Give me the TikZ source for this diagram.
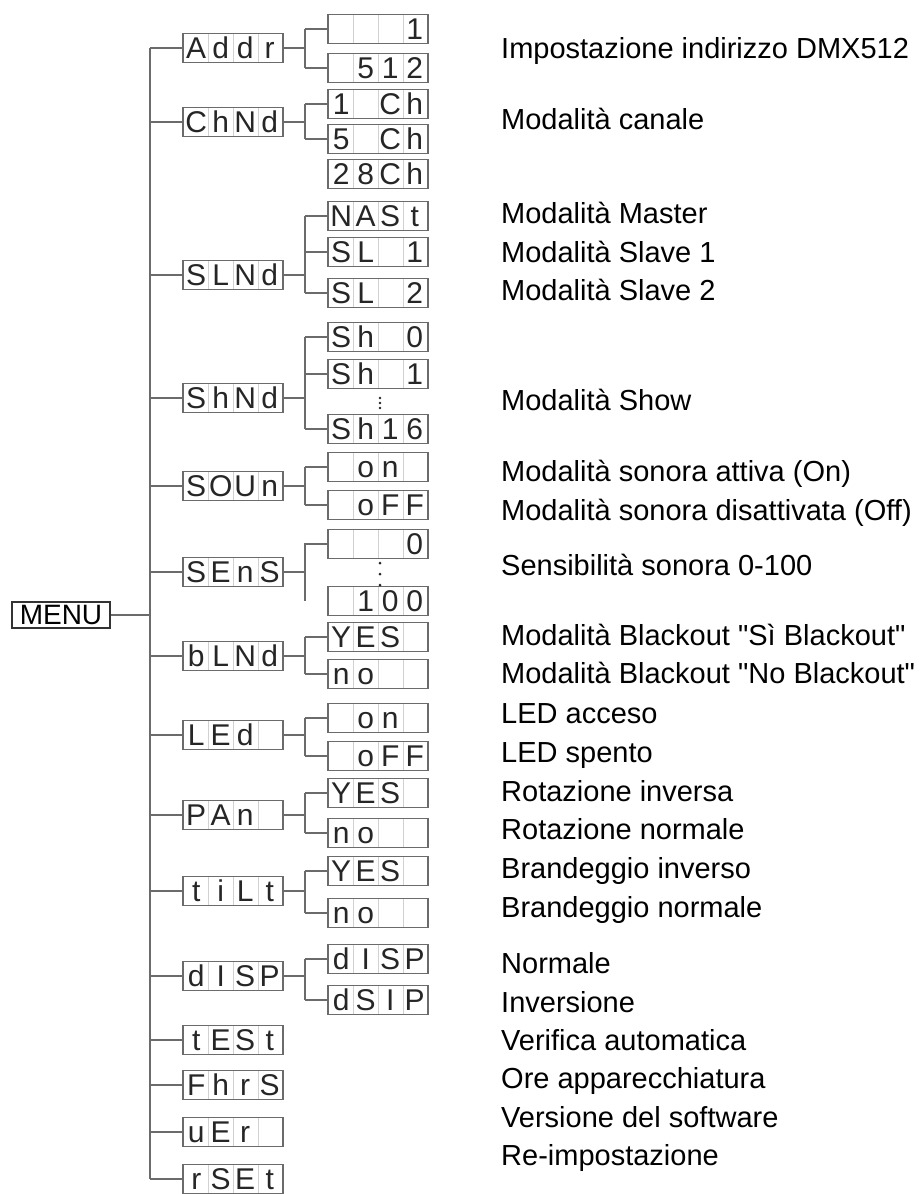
\documentclass[tikz,border=0pt]{standalone}
\usepackage{fontspec}
\setmainfont{Liberation Sans}
\usetikzlibrary{positioning,calc}

\definecolor{linea}{gray}{0.42}
\definecolor{griglia}{gray}{0.82}
\definecolor{cifra}{gray}{0.15}

% quattro celle del display
\newcommand{\lcd}[4]{\rule[-1.5pt]{0pt}{24.5pt}\makebox[24.5pt]{#1}\makebox[24.5pt]{#2}\makebox[24.5pt]{#3}\makebox[24.5pt]{#4}}

\tikzset{
  display/.style={draw=linea, line width=1.4pt, inner sep=1pt, minimum height=29pt,
    text=cifra, font=\fontsize{30}{30}\selectfont,
    path picture={\foreach \k in {1,2,3}
      \draw[griglia, line width=0.8pt]
        ($(path picture bounding box.south west)!\k/4!(path picture bounding box.south east)$) --
        ($(path picture bounding box.north west)!\k/4!(path picture bounding box.north east)$);}},
  ramo/.style={draw=linea, line width=1.4pt},
  voce/.style={anchor=base west, inner sep=0pt, font=\fontsize{29}{31}\selectfont}
}

\begin{document}
\begin{tikzpicture}[x=1pt,y=-1pt]
\useasboundingbox (0,0) rectangle (919,1194);

% Menu principale
\node[draw=black!80, line width=1.4pt, minimum width=98pt, minimum height=26pt, inner sep=0pt,
  font=\fontsize{28}{28}\selectfont] (menu) at (61,615) {MENU};

% Tronco e rami
\coordinate (T) at (150,0);
\coordinate (B) at (305,0);

% Primo livello
\foreach \n/\y/\uno/\due/\tre/\quattro in {Addr/48/A/d/d/r, ChNd/122/C/h/N/d, SLNd/275/S/L/N/d,
    ShNd/398/S/h/N/d, SOUn/486/S/O/U/n, SEnS/572/S/E/n/S, bLNd/656/b/L/N/d, LEd/735/L/E/d/{},
    PAn/815/P/A/n/{}, tiLt/891/t/i/L/t, dISP/976/d/I/S/P, tESt/1040/t/E/S/t,
    FhrS/1085/F/h/r/S, uEr/1132/u/E/r/{}, rSEt/1179/r/S/E/t} {
  \node[display] (\n) at (233,\y) {\lcd{\uno}{\due}{\tre}{\quattro}};
  \draw[ramo] (\n.west -| T) -- (\n.west);
}
\draw[ramo] (menu.east) -- (menu.east -| T);
\draw[ramo] (Addr.west -| T) -- (rSEt.west -| T);

% Secondo livello
\foreach \n/\y/\uno/\due/\tre/\quattro in {Addr1/29/{}/{}/{}/1, Addr2/68/{}/5/1/2,
    ChNd1/104/1/{}/C/h, ChNd2/139/5/{}/C/h, ChNd3/174/2/8/C/h,
    SLNd1/216/N/A/S/t, SLNd2/252/S/L/{}/1, SLNd3/293/S/L/{}/2,
    ShNd1/337/S/h/{}/0, ShNd2/374/S/h/{}/1, ShNd3/429/S/h/1/6,
    SOUn1/467/{}/o/n/{}, SOUn2/505/{}/o/F/F, SEnS1/544/{}/{}/{}/0, SEnS2/601/{}/1/0/0,
    bLNd1/637/Y/E/S/{}, bLNd2/674/n/o/{}/{}, LEd1/718/{}/o/n/{}, LEd2/756/{}/o/F/F,
    PAn1/793/Y/E/S/{}, PAn2/833/n/o/{}/{}, tiLt1/871/Y/E/S/{}, tiLt2/913/n/o/{}/{},
    dISP1/959/d/I/S/P, dISP2/1000/d/S/I/P} {
  \node[display] (\n) at (378,\y) {\lcd{\uno}{\due}{\tre}{\quattro}};
}

% Collegamenti al secondo livello
\foreach \p/\u in {Addr/2, ChNd/2, SLNd/3, ShNd/3, SOUn/2, bLNd/2, LEd/2, PAn/2, tiLt/2, dISP/2} {
  \draw[ramo] (\p.east) -- (\p.east -| B);
  \draw[ramo] (\p1.west -| B) -- (\p\u.west -| B);
  \foreach \k in {1,...,\u}
    \draw[ramo] (\p\k.west -| B) -- (\p\k.west);
}
\draw[ramo] (SEnS.east) -- (SEnS.east -| B);
\draw[ramo] (SEnS2.west -| B) -- (SEnS1.west -| B) -- (SEnS1.west);

% Puntini
\foreach \y in {398,403,408} \fill[cifra] (380,\y) circle (1.4);
\foreach \y in {563,574,585} \fill[cifra] (380,\y) circle (1.5);

% Descrizioni
\foreach \y/\testo [count=\i] in {58/Impostazione indirizzo DMX512, 129/Modalità canale,
    223/Modalità Master, 262/Modalità Slave 1, 300/Modalità Slave 2, 410/Modalità Show,
    481/Modalità sonora attiva (On), 520/Modalità sonora disattivata (Off),
    575/Sensibilità sonora 0-100, 645/Modalità Blackout \textquotedbl Sì Blackout\textquotedbl,
    683/Modalità Blackout \textquotedbl No Blackout\textquotedbl, 723/LED acceso, 762/LED spento,
    801/Rotazione inversa, 839/Rotazione normale, 878/Brandeggio inverso,
    917/Brandeggio normale, 973/Normale, 1012/Inversione, 1050/Verifica automatica,
    1088/Ore apparecchiatura, 1127/Versione del software, 1165/Re-impostazione} {
  \node[voce] (voce\i) at (501,\y) {\testo};
}

\end{tikzpicture}
\end{document}
